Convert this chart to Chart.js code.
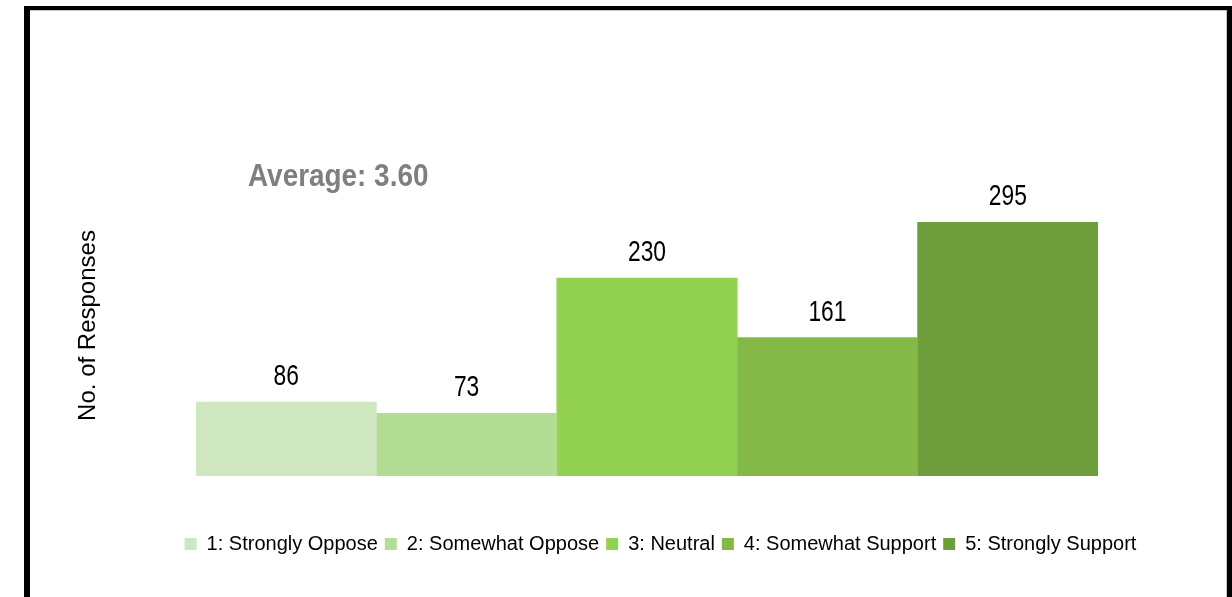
<!DOCTYPE html>
<html>
<head>
<meta charset="utf-8">
<title>Responses</title>
<script src="https://cdn.jsdelivr.net/npm/chart.js@4"></script>
<style>
  body { margin: 0; background: #fff; }
  #wrap { position: relative; width: 1232px; height: 597px; overflow: hidden; }
  #frame {
    position: absolute; left: 24px; top: 6px; right: 0; height: 700px;
    border: solid #000; border-width: 4px 5px 0 6px;
    box-shadow: inset -1px 1px 0 #c4c4c4;
    pointer-events: none;
  }
</style>
</head>
<body>
<div id="wrap">
  <canvas id="responseChart" width="1232" height="597"></canvas>
  <div id="frame"></div>
</div>
<script>
var categories = ['1: Strongly Oppose', '2: Somewhat Oppose', '3: Neutral', '4: Somewhat Support', '5: Strongly Support'];
var responses = [86, 73, 230, 161, 295];
var barColors = ['#cfe7c0', '#b3dc94', '#92d050', '#84b947', '#6e9e3b'];
var averageText = 'Average: 3.60';
var yTitle = 'No. of Responses';
var yMax = 350;

var FONT = '"Liberation Sans", Arial, sans-serif';
Chart.defaults.font.family = FONT;

// one dataset per answer so every bar gets its own legend entry
var datasets = categories.map(function(name, i) {
    return {
        label: name,
        data: [responses[i]],
        backgroundColor: barColors[i],
        borderWidth: 0,
        barPercentage: 1,
        categoryPercentage: 1
    };
});

// condensed text: squeeze horizontally around the anchor point
function narrowText(ctx, text, x, y, sx) {
    ctx.save();
    ctx.translate(x, y);
    ctx.scale(sx, 1);
    ctx.fillText(text, 0, 0);
    ctx.restore();
}

// value labels, the average note and the rotated axis title
var annotate = {
    id: 'annotate',
    afterDatasetsDraw: function(chart) {
        var ctx = chart.ctx;
        var area = chart.chartArea;
        ctx.save();

        ctx.font = '30px ' + FONT;
        ctx.fillStyle = '#000';
        ctx.textAlign = 'center';
        ctx.textBaseline = 'alphabetic';
        chart.data.datasets.forEach(function(ds, i) {
            var bar = chart.getDatasetMeta(i).data[0];
            narrowText(ctx, String(ds.data[0]), bar.x, bar.y - 17, 0.76);
        });

        ctx.font = 'bold 31px ' + FONT;
        ctx.fillStyle = '#7f7f7f';
        ctx.textAlign = 'left';
        narrowText(ctx, averageText, area.left + 52, area.top + 11, 0.9);

        ctx.translate(area.left - 101, (area.top + area.bottom) / 2);
        ctx.rotate(-Math.PI / 2);
        ctx.font = '24px ' + FONT;
        ctx.fillStyle = '#000';
        ctx.textAlign = 'center';
        ctx.fillText(yTitle, 0, 0);
        ctx.restore();
    }
};

var chart = new Chart(document.getElementById('responseChart'), {
    type: 'bar',
    data: { labels: [''], datasets: datasets },
    plugins: [annotate],
    options: {
        responsive: false,
        animation: false,
        layout: { padding: { left: 100, right: 11, top: 175, bottom: 33 } },
        scales: {
            x: {
                display: true,
                grid: { display: false },
                border: { display: false },
                ticks: { display: false },
                afterFit: function(scale) { scale.height = 51; }
            },
            y: {
                display: true,
                min: 0,
                max: yMax,
                grid: { display: false },
                border: { display: false },
                ticks: { display: false },
                afterFit: function(scale) { scale.width = 96; }
            },
            // empty right-hand scale, only reserves the gap right of the bars
            yRight: {
                position: 'right',
                display: true,
                grid: { display: false },
                border: { display: false },
                ticks: { display: false },
                afterFit: function(scale) { scale.width = 123; }
            }
        },
        plugins: {
            tooltip: { enabled: false },
            legend: {
                position: 'bottom',
                labels: { boxWidth: 12, boxHeight: 12, padding: 7, color: '#000', font: { size: 20 } }
            }
        }
    }
});
</script>
</body>
</html>
